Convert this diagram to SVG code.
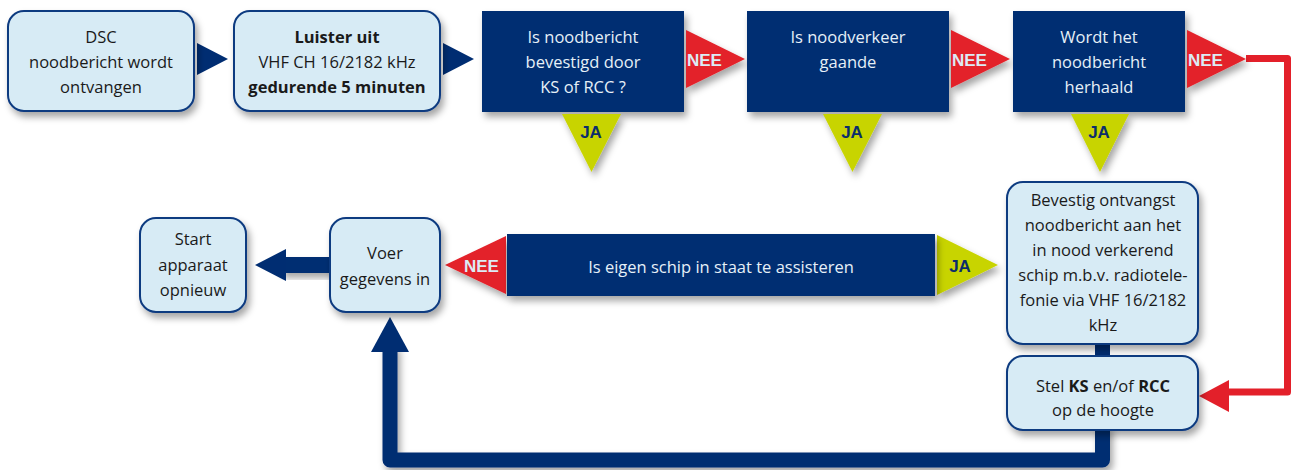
<svg xmlns="http://www.w3.org/2000/svg" width="1294" height="470" viewBox="0 0 1294 470">
<style>
.lb{fill:#d7ebf5;stroke:#0b3a80;stroke-width:2}
.db{fill:#002d72}
.red{fill:#e3202a}
.yel{fill:#c8d400}
.t{font-family:"Open Sans","Noto Sans",sans-serif;font-size:16.5px;text-anchor:middle;fill:#1a1a1a}
.tw{font-family:"Open Sans","Noto Sans",sans-serif;font-size:16.5px;text-anchor:middle;fill:#e6f0f8}
.b{font-weight:bold}
.nee{font-family:"Liberation Sans",Arial,sans-serif;font-weight:bold;font-size:17px;fill:#dcebf5}
.ja{font-family:"Liberation Sans",Arial,sans-serif;font-weight:bold;font-size:17px;fill:#0b2d6b;text-anchor:middle}
</style>
<defs>
<filter id="sh" x="-20%" y="-20%" width="150%" height="160%">
<feDropShadow dx="3" dy="5" stdDeviation="3.5" flood-color="#000" flood-opacity="0.35"/>
</filter>
</defs>

<g id="connectors">
<path d="M1246 58.5 H1287.5 V392 H1226" fill="none" stroke="#e3202a" stroke-width="7" stroke-linejoin="round"/>
<polygon class="red" points="1199,396 1229,380 1229,412"/>
<path d="M1102.5 425 V460 H390 V345" fill="none" stroke="#002d72" stroke-width="15" stroke-linejoin="round" filter="url(#sh)"/>
<polygon class="db" points="390,317 371,352 409,352"/>
<rect class="db" x="1095" y="340" width="15" height="20"/>
<rect class="db" x="280" y="257" width="52" height="16" filter="url(#sh)"/>
<polygon class="db" points="255,265 286,249 286,281"/>
<polygon class="db" points="228,59 197,43 197,75"/>
<polygon class="db" points="474,59 443,43 443,75"/>
</g>

<g id="n1"><rect class="lb" x="8" y="11" width="186" height="100" rx="16" filter="url(#sh)"/>
<text class="t" x="101" y="43">DSC</text><text class="t" x="101" y="68">noodbericht wordt</text><text class="t" x="101" y="93">ontvangen</text></g>

<g id="n2"><rect class="lb" x="234" y="11" width="206" height="100" rx="16" filter="url(#sh)"/>
<text class="t b" x="337" y="43">Luister uit</text><text class="t" x="337" y="68">VHF CH 16/2182 kHz</text><text class="t b" x="337" y="93">gedurende 5 minuten</text></g>

<g id="n3"><rect class="db" x="482" y="11" width="202" height="101" filter="url(#sh)"/>
<text class="tw" x="583" y="43">Is noodbericht</text><text class="tw" x="583" y="68">bevestigd door</text><text class="tw" x="583" y="93">KS of RCC ?</text>
<polygon class="red" points="686,30 745,59 686,88" filter="url(#sh)"/><text class="nee" x="687" y="66">NEE</text>
<polygon class="yel" points="562,114 621,114 591.5,172" filter="url(#sh)"/><text class="ja" x="591" y="138">JA</text></g>

<g id="n4"><rect class="db" x="747" y="11" width="202" height="101" filter="url(#sh)"/>
<text class="tw" x="848" y="43">Is noodverkeer</text><text class="tw" x="848" y="68">gaande</text>
<polygon class="red" points="951,30 1010,59 951,88" filter="url(#sh)"/><text class="nee" x="952" y="66">NEE</text>
<polygon class="yel" points="823,114 882,114 852.5,172" filter="url(#sh)"/><text class="ja" x="852" y="138">JA</text></g>

<g id="n5"><rect class="db" x="1013" y="11" width="172" height="101" filter="url(#sh)"/>
<text class="tw" x="1099" y="43">Wordt het</text><text class="tw" x="1099" y="68">noodbericht</text><text class="tw" x="1099" y="93">herhaald</text>
<polygon class="red" points="1187,30 1246,59 1187,88" filter="url(#sh)"/><text class="nee" x="1188" y="66">NEE</text>
<polygon class="yel" points="1071,114 1129,114 1100,172" filter="url(#sh)"/><text class="ja" x="1099" y="138">JA</text></g>

<g id="n6"><rect class="lb" x="1007" y="182" width="191" height="162" rx="16" filter="url(#sh)"/>
<text class="t" x="1103" y="206">Bevestig ontvangst</text><text class="t" x="1103" y="231">noodbericht aan het</text><text class="t" x="1103" y="256">in nood verkerend</text><text class="t" x="1103" y="281">schip m.b.v. radiotele-</text><text class="t" x="1103" y="306">fonie via VHF 16/2182</text><text class="t" x="1103" y="331">kHz</text></g>

<g id="n7"><rect class="lb" x="1007" y="356" width="191" height="74" rx="16" filter="url(#sh)"/>
<text class="t" x="1103" y="392">Stel <tspan class="b">KS</tspan> en/of <tspan class="b">RCC</tspan></text><text class="t" x="1103" y="416">op de hoogte</text></g>

<g id="n8"><polygon class="yel" points="937,235 998,265 937,295" filter="url(#sh)"/>
<polygon class="red" points="445,265 506,236 506,294" filter="url(#sh)"/>
<rect class="db" x="507" y="234" width="428" height="62" filter="url(#sh)"/>
<text class="tw" x="721" y="273">Is eigen schip in staat te assisteren</text>
<text class="nee" x="464" y="272">NEE</text><text class="ja" x="960" y="272">JA</text></g>

<g id="n9"><rect class="lb" x="330" y="218" width="110" height="94" rx="16" filter="url(#sh)"/>
<text class="t" x="385" y="259">Voer</text><text class="t" x="385" y="285">gegevens in</text></g>

<g id="n10"><rect class="lb" x="140" y="218" width="106" height="94" rx="16" filter="url(#sh)"/>
<text class="t" x="193" y="245">Start</text><text class="t" x="193" y="271">apparaat</text><text class="t" x="193" y="296">opnieuw</text></g>
</svg>
